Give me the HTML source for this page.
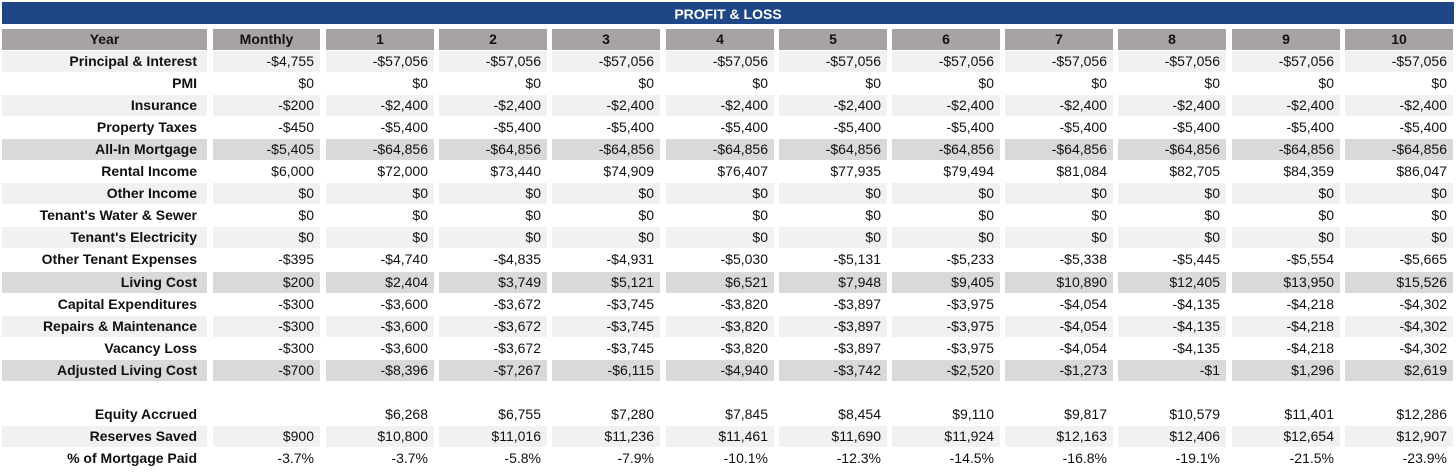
<!DOCTYPE html>
<html><head><meta charset="utf-8"><style>
body{margin:0;width:1456px;height:475px;background:#fff;font-family:"Liberation Sans",Arial,sans-serif;position:relative;overflow:hidden}
.c{position:absolute;height:21px;line-height:21px;font-size:14px;color:#111;box-sizing:border-box;padding-right:6px;text-align:right;white-space:nowrap}
.h{background:#a8a3a3;font-weight:bold;text-align:center;padding:0}
.lbl{font-weight:bold;padding-right:10px}
#title{position:absolute;left:2px;top:2px;width:1452px;height:22px;background:#1f4788;color:#fff;font-weight:bold;font-size:14px;text-align:center;line-height:24px}
</style></head><body>
<div id="title">PROFIT &amp; LOSS</div>
<div id="t"></div>
<script>
const headers=["Year","Monthly","1","2","3","4","5","6","7","8","9","10"];
const labels=["Principal & Interest","PMI","Insurance","Property Taxes","All-In Mortgage","Rental Income","Other Income","Tenant's Water & Sewer","Tenant's Electricity","Other Tenant Expenses","Living Cost","Capital Expenditures","Repairs & Maintenance","Vacancy Loss","Adjusted Living Cost","","Equity Accrued","Reserves Saved","% of Mortgage Paid"];
const shades=[1,0,1,0,2,0,1,0,1,0,2,0,1,0,2,-1,0,1,0];
const rows=[
["-$4,755","-$57,056","-$57,056","-$57,056","-$57,056","-$57,056","-$57,056","-$57,056","-$57,056","-$57,056","-$57,056"],
["$0","$0","$0","$0","$0","$0","$0","$0","$0","$0","$0"],
["-$200","-$2,400","-$2,400","-$2,400","-$2,400","-$2,400","-$2,400","-$2,400","-$2,400","-$2,400","-$2,400"],
["-$450","-$5,400","-$5,400","-$5,400","-$5,400","-$5,400","-$5,400","-$5,400","-$5,400","-$5,400","-$5,400"],
["-$5,405","-$64,856","-$64,856","-$64,856","-$64,856","-$64,856","-$64,856","-$64,856","-$64,856","-$64,856","-$64,856"],
["$6,000","$72,000","$73,440","$74,909","$76,407","$77,935","$79,494","$81,084","$82,705","$84,359","$86,047"],
["$0","$0","$0","$0","$0","$0","$0","$0","$0","$0","$0"],
["$0","$0","$0","$0","$0","$0","$0","$0","$0","$0","$0"],
["$0","$0","$0","$0","$0","$0","$0","$0","$0","$0","$0"],
["-$395","-$4,740","-$4,835","-$4,931","-$5,030","-$5,131","-$5,233","-$5,338","-$5,445","-$5,554","-$5,665"],
["$200","$2,404","$3,749","$5,121","$6,521","$7,948","$9,405","$10,890","$12,405","$13,950","$15,526"],
["-$300","-$3,600","-$3,672","-$3,745","-$3,820","-$3,897","-$3,975","-$4,054","-$4,135","-$4,218","-$4,302"],
["-$300","-$3,600","-$3,672","-$3,745","-$3,820","-$3,897","-$3,975","-$4,054","-$4,135","-$4,218","-$4,302"],
["-$300","-$3,600","-$3,672","-$3,745","-$3,820","-$3,897","-$3,975","-$4,054","-$4,135","-$4,218","-$4,302"],
["-$700","-$8,396","-$7,267","-$6,115","-$4,940","-$3,742","-$2,520","-$1,273","-$1","$1,296","$2,619"],
["","","","","","","","","","",""],
["","$6,268","$6,755","$7,280","$7,845","$8,454","$9,110","$9,817","$10,579","$11,401","$12,286"],
["$900","$10,800","$11,016","$11,236","$11,461","$11,690","$11,924","$12,163","$12,406","$12,654","$12,907"],
["-3.7%","-3.7%","-5.8%","-7.9%","-10.1%","-12.3%","-14.5%","-16.8%","-19.1%","-21.5%","-23.9%"]];
const T=document.getElementById('t');
const colX=i=>i===0?2:(i===1?213:326+Math.round((i-2)*113.2));
const colW=i=>i===0?205:(i===1?107:108);
const bg=[ '#fff','#f1f1f1','#d9d9d9'];
function cell(x,y,w,txt,cls,b){const d=document.createElement('div');d.className='c '+cls;
d.style.left=x+'px';d.style.top=y+'px';d.style.width=w+'px';if(b)d.style.background=b;d.textContent=txt;


T.appendChild(d);}
headers.forEach((h,i)=>cell(colX(i),29,colW(i),h,'h'));
labels.forEach((l,r)=>{const y=51+r*22.05;const s=shades[r];if(s<0)return;
cell(colX(0),Math.round(y),colW(0),l,'lbl',bg[s]);
rows[r].forEach((v,i)=>cell(colX(i+1),Math.round(y),colW(i+1),v,'',bg[s]));});
</script>
</body></html>
